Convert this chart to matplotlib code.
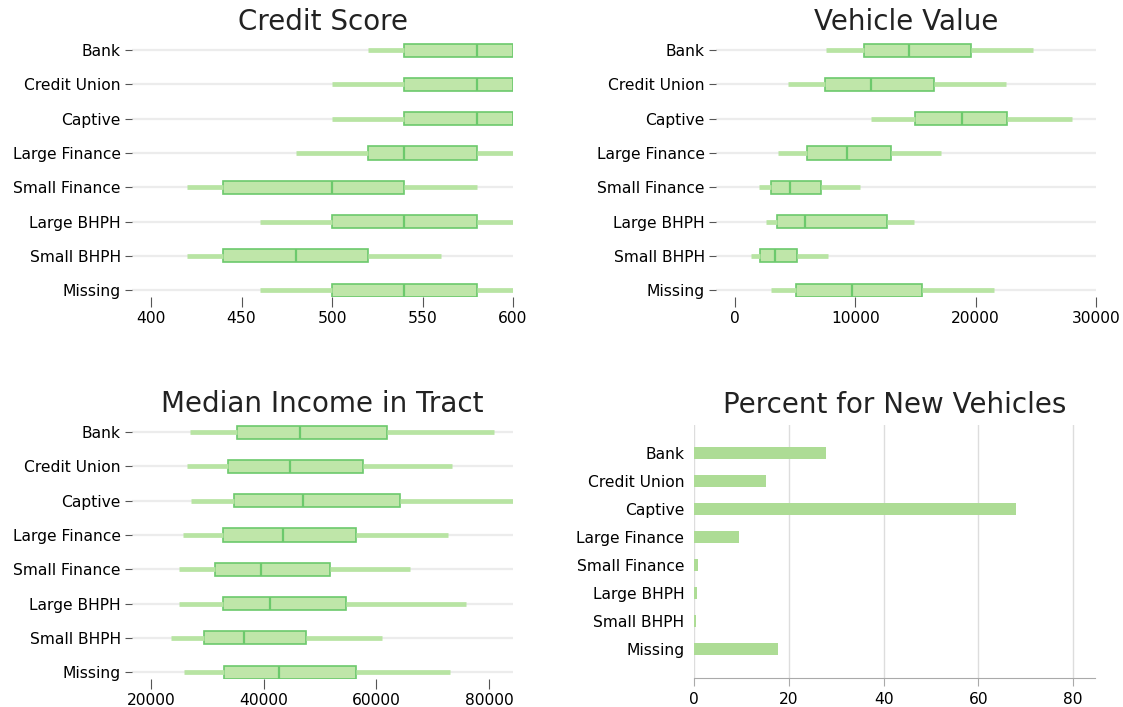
import matplotlib
matplotlib.use("Agg")
import matplotlib.pyplot as plt
from matplotlib.ticker import FixedLocator

lenders = ["Bank", "Credit Union", "Captive", "Large Finance",
           "Small Finance", "Large BHPH", "Small BHPH", "Missing"]

# box stats per lender: whisker low, q1, median, q3, whisker high
credit_lo  = [520, 500, 500, 480, 420, 460, 420, 460]
credit_q1  = [540, 540, 540, 520, 440, 500, 440, 500]
credit_med = [580, 580, 580, 540, 500, 540, 480, 540]
credit_q3  = [600, 600, 600, 580, 540, 580, 520, 580]
credit_hi  = [600, 600, 600, 600, 580, 600, 560, 600]

vehicle_lo  = [7600, 4400, 11300, 3600, 2000, 2600, 1300, 3000]
vehicle_q1  = [10700, 7450, 14950, 5950, 2950, 3500, 2100, 5100]
vehicle_med = [14500, 11300, 18900, 9300, 4600, 5800, 3350, 9750]
vehicle_q3  = [19650, 16500, 22600, 13000, 7150, 12650, 5150, 15500]
vehicle_hi  = [24800, 22500, 28000, 17150, 10350, 14850, 7700, 21500]

income_lo  = [27000, 26450, 27100, 25650, 24900, 24900, 23500, 25950]
income_q1  = [35200, 33750, 34800, 32750, 31350, 32800, 29450, 33000]
income_med = [46400, 44700, 47050, 43400, 39450, 41150, 36600, 42800]
income_q3  = [61950, 57650, 64150, 56350, 51800, 54550, 47500, 56350]
income_hi  = [80800, 73350, 84250, 72700, 66050, 75900, 61000, 73050]

pct_new = [27.9, 15.1, 68.0, 9.4, 0.9, 0.6, 0.5, 17.8]

W, H = 1123, 707
fig = plt.figure(figsize=(W / 100, H / 100), dpi=100)

box_face = "#bfe6a9"
box_edge = "#6cc96c"
whisk_col = "#b8e4a3"
row_col = "#ececec"
tick_col = "#555555"
lab_size = 11.2
title_size = 20


def px_axes(left, top, right, bottom):
    return fig.add_axes([left / W, 1 - bottom / H, (right - left) / W, (bottom - top) / H])


def put_title(ax, title, top, center):
    # title centred a fixed number of pixels above the axes
    h = ax.get_position().height * H
    ax.text(0.5, 1 + (top - center) / h, title, transform=ax.transAxes,
            ha="center", va="center", fontsize=title_size, color="#222222")


def box_panel(ax, title, lo, q1, med, q3, hi, xlim, xticks, top):
    n = len(lenders)
    for i in range(n):
        ax.plot(xlim, [i, i], color=row_col, lw=1.6, zorder=0, solid_capstyle="butt")
    stats = [dict(whislo=lo[i], q1=q1[i], med=med[i], q3=q3[i], whishi=hi[i], fliers=[])
             for i in range(n)]
    ax.bxp(stats, positions=range(n), vert=False, widths=0.38, patch_artist=True,
           showcaps=False, showfliers=False,
           boxprops=dict(facecolor=box_face, edgecolor=box_edge, linewidth=1.2),
           medianprops=dict(color=box_edge, linewidth=1.6),
           whiskerprops=dict(color=whisk_col, linewidth=3.4, solid_capstyle="butt"))
    ax.set_xlim(*xlim)
    ax.set_ylim(7.2, -0.5)
    ax.set_yticks(range(n))
    ax.set_yticklabels(lenders)
    ax.xaxis.set_major_locator(FixedLocator(xticks))
    ax.set_xticklabels([str(t) for t in xticks])
    for s in ax.spines.values():
        s.set_visible(False)
    ax.tick_params(axis="y", length=5, width=0.8, color=tick_col, labelsize=lab_size, pad=3)
    ax.tick_params(axis="x", length=7, width=0.8, color=tick_col, labelsize=lab_size, pad=3)
    put_title(ax, title, top, top - 11)


ax1 = px_axes(132, 33, 513, 297)
box_panel(ax1, "Credit Score", credit_lo, credit_q1, credit_med, credit_q3, credit_hi,
          (389.5, 600), [400, 450, 500, 550, 600], 33)

ax2 = px_axes(716, 33, 1096, 297)
box_panel(ax2, "Vehicle Value", vehicle_lo, vehicle_q1, vehicle_med, vehicle_q3, vehicle_hi,
          (-1580, 30000), [0, 10000, 20000, 30000], 33)

ax3 = px_axes(132, 415, 513, 679)
box_panel(ax3, "Median Income in Tract", income_lo, income_q1, income_med, income_q3, income_hi,
          (16640, 84250), [20000, 40000, 60000, 80000], 415)

ax4 = px_axes(694, 425, 1095, 678)
ax4.barh(range(len(lenders)), pct_new, height=0.43, color="#addc95", zorder=2)
ax4.set_xlim(0, 84.6)
ax4.set_ylim(8.04, -1.0)
ax4.set_yticks(range(len(lenders)))
ax4.set_yticklabels(lenders)
ax4.set_xticks([0, 20, 40, 60, 80])
ax4.grid(axis="x", color="#dddddd", lw=1.0, zorder=0)
for k in ["top", "right", "left"]:
    ax4.spines[k].set_visible(False)
ax4.spines["bottom"].set_color("#aaaaaa")
ax4.tick_params(axis="y", length=0, labelsize=lab_size, pad=7)
ax4.tick_params(axis="x", length=6, width=0.8, color="#aaaaaa", labelsize=lab_size, pad=4)
put_title(ax4, "Percent for New Vehicles", 425, 405)

fig.savefig("out.png", dpi=100)
